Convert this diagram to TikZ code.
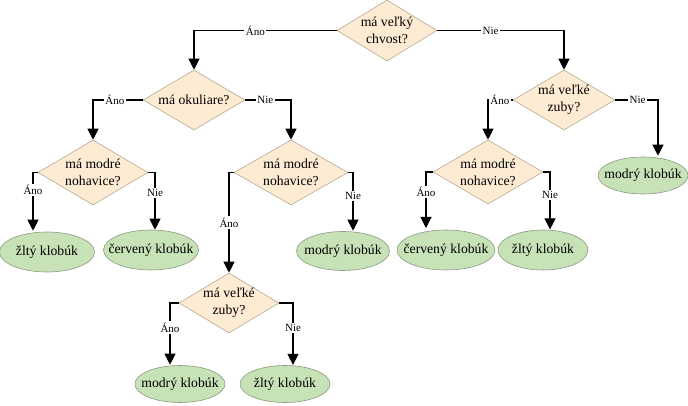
\documentclass[tikz,border=0pt]{standalone}
\usepackage{fontspec}
\setmainfont{Liberation Serif}
\usetikzlibrary{shapes.geometric,arrows.meta}
\definecolor{qfill}{HTML}{FDEBD3}
\definecolor{qdraw}{HTML}{B8A890}
\definecolor{afill}{HTML}{C8E2B8}
\definecolor{adraw}{HTML}{8A9A82}
\tikzset{
  q/.style={diamond, draw=qdraw, fill=qfill, line width=0.6pt, inner sep=0pt},
  qtext/.style={font=\fontsize{13.7}{17}\selectfont, align=center},
  ans/.style={ellipse, draw=adraw, fill=afill, line width=0.6pt, inner sep=0pt,
    minimum width=95pt, minimum height=40pt},
  atext/.style={font=\fontsize{13.7}{16}\selectfont},
  arr/.style={line width=1.1pt, -{Triangle[width=11pt,length=11pt]}},
  lbl/.style={fill=white, inner sep=1.5pt, font=\fontsize{11}{13}\selectfont}
}
\begin{document}
\begin{tikzpicture}[x=1pt,y=-1pt]
\useasboundingbox (0,0) rectangle (688,406);
% questions
\node[q, minimum width=100pt, minimum height=61pt, label={[qtext]center:má veľký\\chvost?}] (d1) at (387,30.5) {};
\node[q, minimum width=102pt, minimum height=60pt, label={[qtext]center:má okuliare?}] (d2) at (194,100) {};
\node[q, minimum width=110pt, minimum height=65pt, label={[qtext]center:má modré\\nohavice?}] (d3) at (93,172.5) {};
\node[q, minimum width=114pt, minimum height=65pt, label={[qtext]center:má modré\\nohavice?}] (d4) at (291,172.5) {};
\node[q, minimum width=100pt, minimum height=60pt, label={[qtext]center:má veľké\\zuby?}] (d5) at (229,303) {};
\node[q, minimum width=102pt, minimum height=60pt, label={[qtext]center:má veľké\\zuby?}] (d6) at (564,100) {};
\node[q, minimum width=110pt, minimum height=64pt, label={[qtext]center:má modré\\nohavice?}] (d7) at (488,172) {};
% answers
\node[ans, label={[atext]center:žltý klobúk}] (e1) at (47,252) {};
\node[ans, label={[atext]center:červený klobúk}] (e2) at (151,250) {};
\node[ans, minimum width=93pt, minimum height=39pt, label={[atext]center:modrý klobúk}] (e3) at (343,251) {};
\node[ans, minimum width=90pt, minimum height=37pt, label={[atext]center:modrý klobúk}] (e4) at (180,384) {};
\node[ans, minimum width=90pt, minimum height=37pt, label={[atext]center:žltý klobúk}] (e5) at (285,384) {};
\node[ans, minimum width=98pt, label={[atext]center:červený klobúk}] (e6) at (446,250) {};
\node[ans, minimum width=90pt, label={[atext]center:žltý klobúk}] (e7) at (543,250) {};
\node[ans, minimum width=90pt, minimum height=37pt, label={[atext]center:modrý klobúk}] (e8) at (643,175.5) {};
% connectors
\draw[arr] (d1.west) -| node[lbl, pos=0.285] {Áno} (d2.north);
\draw[arr] (d1.east) -| node[lbl, pos=0.21] {Nie} (d6.north);
\draw[arr] (d2.west) -| node[lbl, pos=0.28] {Áno} (d3.north);
\draw[arr] (d2.east) -| node[lbl, pos=0.22] {Nie} (d4.north);
\draw[arr] (d3.west) -| node[lbl, pos=0.65] {Áno} ([xshift=-14pt,yshift=1pt]e1.north);
\draw[arr] (d3.east) -| node[lbl, pos=0.68] {Nie} ([xshift=4pt]e2.north);
\draw[arr] (d4.west) -| node[lbl, pos=0.75] {Áno} (d5.north);
\draw[arr] (d4.east) -| node[lbl, pos=0.7] {Nie} ([xshift=10pt,yshift=0.5pt]e3.north);
\draw[arr] (d5.west) -| node[lbl, pos=0.7] {Áno} ([xshift=-10pt,yshift=0.5pt]e4.north);
\draw[arr] (d5.east) -| node[lbl, pos=0.7] {Nie} ([xshift=8pt,yshift=0.3pt]e5.north);
\draw[arr] (d6.west) -| node[lbl, pos=0.26] {Áno} (d7.north);
\draw[arr] (d6.east) -| node[lbl, pos=0.26] {Nie} ([xshift=15pt,yshift=1pt]e8.north);
\draw[arr] (d7.west) -| node[lbl, pos=0.68] {Áno} ([xshift=-20pt,yshift=1.7pt]e6.north);
\draw[arr] (d7.east) -| node[lbl, pos=0.7] {Nie} ([xshift=7pt,yshift=0.3pt]e7.north);
\end{tikzpicture}
\end{document}
